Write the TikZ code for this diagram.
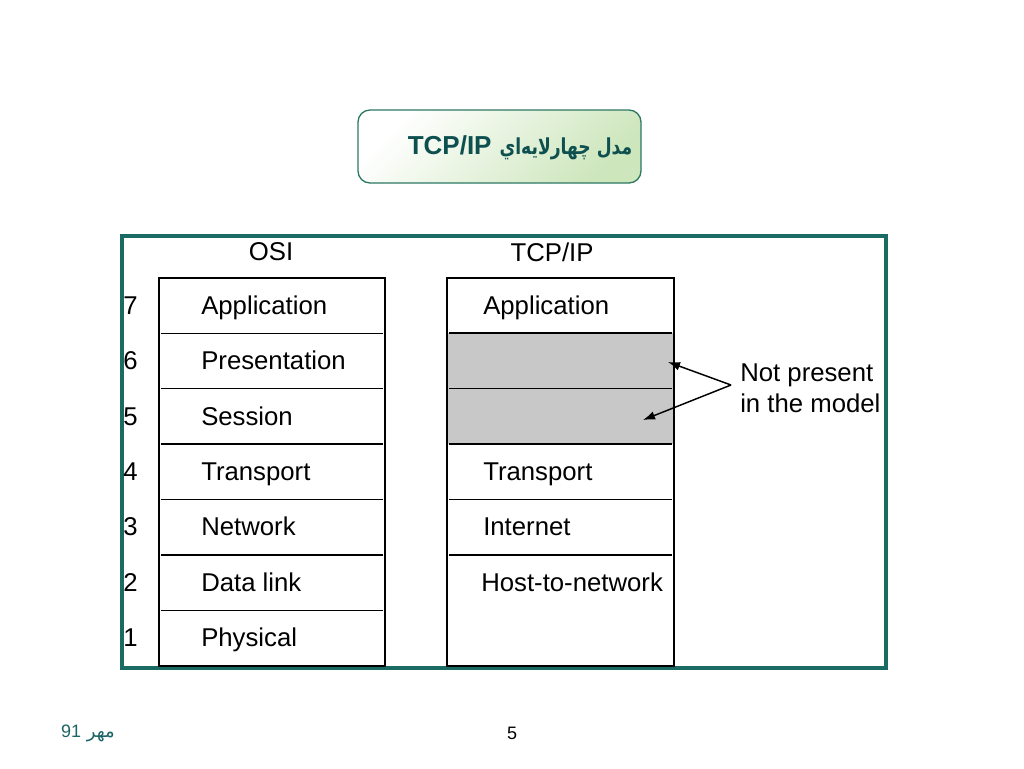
\documentclass[tikz,border=0pt]{standalone}
\usepackage{fontspec}
\setmainfont{Liberation Sans}
\newfontfamily\arabicfont[Script=Arabic]{DejaVu Sans}
\newfontfamily\arabictitle[Script=Arabic, FakeStretch=0.78]{DejaVu Sans}
\TeXXeTstate=1
\usetikzlibrary{arrows.meta, shadings}
\definecolor{framegreen}{RGB}{26, 107, 100}
\definecolor{titleteal}{RGB}{14, 80, 80}
\definecolor{titleline}{RGB}{45, 120, 100}
\definecolor{titlefill}{RGB}{205, 230, 188}
\definecolor{gapgray}{RGB}{200, 200, 200}
\definecolor{footteal}{RGB}{30, 100, 100}

\begin{document}
\begin{tikzpicture}[x=0.75pt, y=-0.75pt,
  layer/.style={minimum width=169.5pt, minimum height=41.57pt, inner sep=0pt},
  stackline/.style={draw=black, line width=1.3pt},
  sepline/.style={draw=black, line width=1pt},
  lbl/.style={font=\fontsize{19.3}{23.2}\selectfont, inner sep=0pt, anchor=base west},
  hdr/.style={font=\fontsize{19.3}{23.2}\selectfont, inner sep=0pt},
  ptr/.style={line width=1.1pt, -{Latex[length=9pt, width=6.5pt]}}]
  \useasboundingbox (0,0) rectangle (1024,768);
  \fill[white] (0,0) rectangle (1024,768);

  % Title
  \node[draw=titleline, line width=1pt, rounded corners=9pt, minimum width=212.25pt, minimum height=54.75pt,
        top color=white, bottom color=titlefill, shading angle=45] (titlebox) at (499.5,146.5) {};
  \node[text=titleteal, inner sep=0pt] (title) at (520,148)
    {\beginR{\arabictitle\bfseries\fontsize{16.5}{20}\selectfont مدل چهارلايه‌اي}\hspace{6pt}\beginL{\bfseries\fontsize{19.5}{22}\selectfont TCP/IP}\endL\endR};

  % Frame
  \draw[framegreen, line width=2.3pt] (122,236) rectangle (886,668);

  \node[hdr] (osihead) at (271,252) {OSI};
  \node[hdr] (tcphead) at (552,252) {TCP/IP};

  % OSI stack with layer numbers
  \foreach \n/\txt in {7/Application, 6/Presentation, 5/Session, 4/Transport, 3/Network, 2/Data link, 1/Physical} {
    \pgfmathsetmacro\yy{278+(7.5-\n)*55.43}
    \node[layer] (osi\n) at (272,\yy) {};
    \node[lbl] (osit\n) at (201,\yy+8.5) {\txt};
    \node[lbl] (num\n) at (123,\yy+8.5) {\n};
  }
  \foreach \n in {6,...,1}
    \draw[sepline] ([xshift=1.5pt]osi\n.north west) -- ([xshift=-1.5pt]osi\n.north east);
  \draw[stackline] (osi7.north west) rectangle (osi1.south east);

  % TCP/IP stack
  \foreach \n/\txt in {7/Application, 4/Transport, 3/Internet} {
    \pgfmathsetmacro\yy{278+(7.5-\n)*55.43}
    \node[layer] (tcp\n) at (560.5,\yy) {};
    \node[lbl] (tcpt\n) at (483,\yy+8.5) {\txt};
  }
  \node[layer, fill=gapgray] (tcp6) at (560.5,361.1) {};
  \node[layer, fill=gapgray] (tcp5) at (560.5,416.6) {};
  \node[layer, minimum height=83.15pt] (tcp21) at (560.5,610.6) {};
  \node[lbl] (tcpt21) at (481,591.4) {Host-to-network};
  \foreach \n in {6,5,4,3,21}
    \draw[sepline] ([xshift=1.5pt]tcp\n.north west) -- ([xshift=-1.5pt]tcp\n.north east);
  \draw[stackline] (tcp7.north west) rectangle (tcp21.south east);

  % Missing layers
  \node[lbl, anchor=west, align=left] (note) at (740,388) {Not present\\in the model};
  \coordinate (fork) at (731,385);
  \coordinate (gap6) at (668,362);
  \coordinate (gap5) at (643,420);
  \draw[ptr] (fork) -- (gap6);
  \draw[ptr] (fork) -- (gap5);

  % Footer
  \node[font=\fontsize{13.5}{16}\selectfont, inner sep=0pt] (pagenum) at (512,733) {5};
  \node[font=\fontsize{13.5}{16}\selectfont, text=footteal, inner sep=0pt] (date) at (88,733)
    {\arabicfont\beginR مهر \beginL{\rmfamily 91}\endL\endR};
\end{tikzpicture}
\end{document}
